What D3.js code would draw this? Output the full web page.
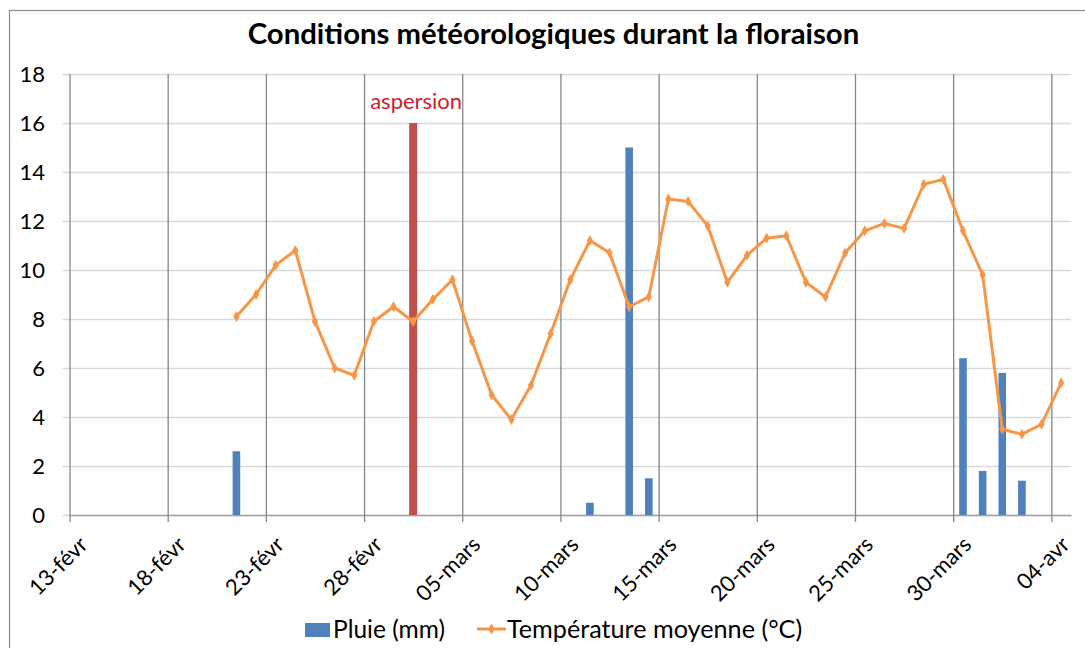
<!DOCTYPE html>
<html>
<head>
<meta charset="utf-8">
<title>Conditions météorologiques durant la floraison</title>
<script src="https://d3js.org/d3.v7.min.js"></script>
<style>
  body { margin: 0; background: #fff; }
  svg text { font-family: Lato, "Open Sans", sans-serif; fill: #000; }
</style>
</head>
<body>
<div id="chart"></div>
<script>
// Data
const tempDates = ["2013-02-21","2013-02-22","2013-02-23","2013-02-24","2013-02-25","2013-02-26","2013-02-27",
  "2013-02-28","2013-03-01","2013-03-02","2013-03-03","2013-03-04","2013-03-05","2013-03-06","2013-03-07",
  "2013-03-08","2013-03-09","2013-03-10","2013-03-11","2013-03-12","2013-03-13","2013-03-14","2013-03-15",
  "2013-03-16","2013-03-17","2013-03-18","2013-03-19","2013-03-20","2013-03-21","2013-03-22","2013-03-23",
  "2013-03-24","2013-03-25","2013-03-26","2013-03-27","2013-03-28","2013-03-29","2013-03-30","2013-03-31",
  "2013-04-01","2013-04-02","2013-04-03","2013-04-04"]
const temperature = [8.1, 9.0, 10.2, 10.8, 7.9, 6.0, 5.7, 7.9, 8.5, 7.9, 8.8, 9.6, 7.1, 4.9, 3.9,
  5.3, 7.4, 9.6, 11.2, 10.7, 8.5, 8.9, 12.9, 12.8, 11.8, 9.5, 10.6, 11.3, 11.4, 9.5, 8.9,
  10.7, 11.6, 11.9, 11.7, 13.5, 13.7, 11.6, 9.8, 3.5, 3.3, 3.7, 5.4]

const rainDates = ["2013-02-21","2013-03-11","2013-03-13","2013-03-14","2013-03-30","2013-03-31","2013-04-01","2013-04-02"]
const rain = [2.6, 0.5, 15, 1.5, 6.4, 1.8, 5.8, 1.4]

const sprinklingDate = "2013-03-02"
const sprinkling = 16

const xTickDates = ["2013-02-13","2013-02-18","2013-02-23","2013-02-28","2013-03-05","2013-03-10",
  "2013-03-15","2013-03-20","2013-03-25","2013-03-30","2013-04-04"]
const xTickLabels = ["13-févr","18-févr","23-févr","28-févr","05-mars","10-mars",
  "15-mars","20-mars","25-mars","30-mars","04-avr"]
const yTicks = [0, 2, 4, 6, 8, 10, 12, 14, 16, 18]

// Layout
const w = 1085
const h = 648
const plotLeft = 69.5
const plotRight = 1071
const plotTop = 74
const plotBottom = 515

const parse = d3.timeParse("%Y-%m-%d")
const mid = s => d3.timeHour.offset(parse(s), 12)

const xScale = d3.scaleTime()
  .domain([parse("2013-02-13"), parse("2013-04-05")])
  .range([plotLeft, plotRight])
const yScale = d3.scaleLinear()
  .domain([0, 18])
  .range([plotBottom, plotTop])

const barW = 7.6

const svg = d3.select("#chart").append("svg")
  .attr("width", w)
  .attr("height", h)

// Frame
svg.append("rect")
  .attr("x", 9.5).attr("y", 10.5)
  .attr("width", w + 20).attr("height", h + 20)
  .attr("fill", "none").attr("stroke", "#8c8c8c").attr("stroke-width", 1.2)

// Title
svg.append("text")
  .attr("x", 553.5).attr("y", 44)
  .attr("text-anchor", "middle")
  .attr("font-size", 29.3).attr("font-weight", "bold")
  .text("Conditions météorologiques durant la floraison")

// Horizontal gridlines
const yAxis = d3.axisLeft(yScale)
  .tickValues(yTicks)
  .tickSize(0)
  .tickFormat(d3.format("d"))
const gy = svg.append("g")
  .attr("transform", `translate(${plotLeft - 7},0)`)
  .call(yAxis)
gy.select(".domain").remove()
gy.selectAll(".tick line").attr("stroke", "#d9d9d9").attr("stroke-width", 1.5)
  .attr("x1", 0).attr("x2", plotRight - plotLeft + 7)
gy.selectAll(".tick text").attr("font-size", 22).attr("x", -17.5)

// Vertical gridlines + x axis
const xAxis = d3.axisBottom(xScale)
  .tickValues(xTickDates.map(parse))
  .tickSize(0)
  .tickFormat((d, i) => xTickLabels[i])
const gx = svg.append("g")
  .attr("transform", `translate(0,${plotBottom})`)
  .call(xAxis)
gx.select(".domain").attr("stroke", "#a0a0a0").attr("stroke-width", 1.5)
gx.selectAll(".tick line")
  .attr("y1", -(plotBottom - plotTop)).attr("y2", 7)
  .attr("stroke", "#868686").attr("stroke-width", 1.3)
gx.selectAll(".tick text")
  .attr("font-size", 22)
  .attr("text-anchor", "end")
  .attr("dy", null)
  .attr("y", 0)
  .attr("transform", "translate(19,31) rotate(-45)")

// Rain bars
svg.selectAll(".rain")
  .data(rain)
  .enter()
  .append("rect")
  .attr("class", "rain")
  .attr("x", (d, i) => xScale(mid(rainDates[i])) - barW / 2)
  .attr("y", d => yScale(d))
  .attr("width", barW)
  .attr("height", d => plotBottom - yScale(d))
  .attr("fill", "#4f81bd")

// Sprinkling bar
svg.append("rect")
  .attr("x", xScale(mid(sprinklingDate)) - 4)
  .attr("y", yScale(sprinkling))
  .attr("width", 8)
  .attr("height", plotBottom - yScale(sprinkling))
  .attr("fill", "#c0504d")
svg.append("text")
  .attr("x", xScale(mid(sprinklingDate)) + 3)
  .attr("y", 109)
  .attr("text-anchor", "middle")
  .attr("font-size", 22)
  .style("fill", "#d0202a")
  .text("aspersion")

// Temperature line
const line = d3.line()
  .x((d, i) => xScale(mid(tempDates[i])))
  .y(d => yScale(d))
svg.append("path")
  .datum(temperature)
  .attr("d", line)
  .attr("fill", "none")
  .attr("stroke", "#f79646")
  .attr("stroke-width", 3)
  .attr("stroke-linejoin", "round")

const diamond = d3.symbol().type(d3.symbolDiamond).size(34)
svg.selectAll(".temp")
  .data(temperature)
  .enter()
  .append("path")
  .attr("class", "temp")
  .attr("d", diamond)
  .attr("transform", (d, i) => `translate(${xScale(mid(tempDates[i]))},${yScale(d)})`)
  .attr("fill", "#f79646")

// Legend
const lg = svg.append("g").attr("transform", "translate(0,630)")
lg.append("rect")
  .attr("x", 305).attr("y", -7).attr("width", 25).attr("height", 14)
  .attr("fill", "#4f81bd")
lg.append("text")
  .attr("x", 333).attr("y", 8)
  .attr("font-size", 24.5)
  .text("Pluie (mm)")
lg.append("line")
  .attr("x1", 477).attr("x2", 506).attr("y1", -1).attr("y2", -1)
  .attr("stroke", "#f79646").attr("stroke-width", 3)
lg.append("path")
  .attr("d", diamond)
  .attr("transform", "translate(491.5,-1)")
  .attr("fill", "#f79646")
lg.append("text")
  .attr("x", 507).attr("y", 8)
  .attr("font-size", 25.2)
  .text("Température moyenne (°C)")
</script>
</body>
</html>
